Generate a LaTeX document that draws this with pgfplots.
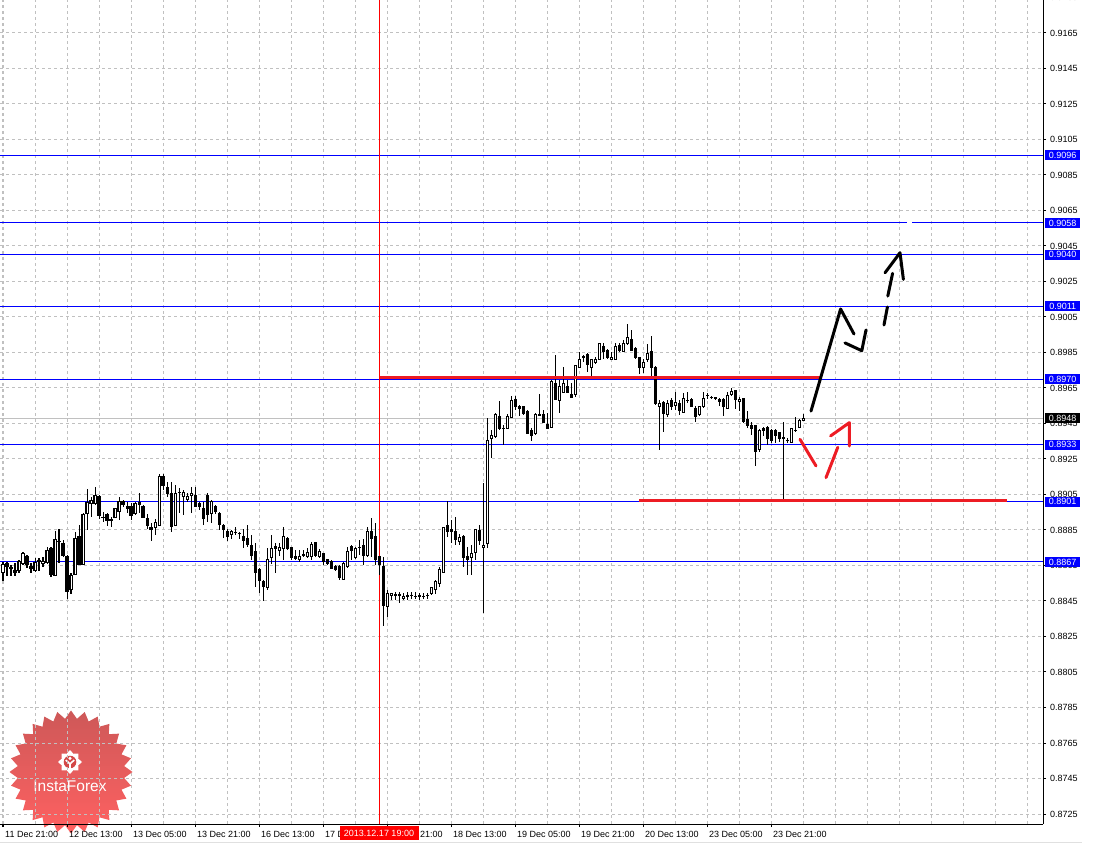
\documentclass[border=0pt]{standalone}
\usepackage{fontspec}
\setmainfont{Liberation Sans}
\usepackage{pgfplots}
\usepackage{pgfplotstable}
\pgfplotsset{compat=1.18}
\usetikzlibrary{shapes.geometric}

\definecolor{gridgray}{RGB}{192,192,192}
\definecolor{mtblue}{RGB}{0,0,255}
\definecolor{annred}{RGB}{237,28,36}
\definecolor{vred}{RGB}{255,0,0}
\definecolor{logotop}{RGB}{200,70,70}
\definecolor{logobot}{RGB}{255,80,80}
\newcommand\lbl{\fontsize{9}{10.5}\selectfont}

\pgfplotstableread{
i o h l c
0 0.88609 0.88671 0.88564 0.88653
1 0.88662 0.88671 0.88592 0.88643
2 0.88634 0.88653 0.88592 0.88636
3 0.88624 0.88662 0.88591 0.88611
4 0.88621 0.88681 0.88609 0.88671
5 0.88662 0.88728 0.88653 0.88715
6 0.88703 0.88709 0.88639 0.88653
7 0.88647 0.88662 0.88606 0.88632
8 0.88621 0.88690 0.88615 0.88666
9 0.88675 0.88690 0.88621 0.88677
10 0.88662 0.88700 0.88643 0.88675
11 0.88666 0.88756 0.88662 0.88737
12 0.88747 0.88756 0.88587 0.88602
13 0.88592 0.88846 0.88590 0.88794
14 0.88786 0.88856 0.88662 0.88788
15 0.88775 0.88794 0.88700 0.88709
16 0.88703 0.88709 0.88465 0.88502
17 0.88512 0.88606 0.88489 0.88596
18 0.88602 0.88841 0.88596 0.88803
19 0.88816 0.88878 0.88658 0.88658
20 0.88658 0.88944 0.88656 0.88935
21 0.88944 0.89085 0.88850 0.89006
22 0.89000 0.89034 0.88925 0.89014
23 0.89000 0.89091 0.88991 0.89047
24 0.89038 0.89047 0.88916 0.88929
25 0.88920 0.88953 0.88897 0.88922
26 0.88935 0.88944 0.88873 0.88903
27 0.88906 0.88925 0.88869 0.88908
28 0.88921 0.88972 0.88916 0.88972
29 0.88953 0.89038 0.88906 0.89010
30 0.89010 0.89019 0.88981 0.88995
31 0.88985 0.89010 0.88944 0.88972
32 0.88981 0.89000 0.88906 0.88931
33 0.88944 0.89010 0.88935 0.88997
34 0.89004 0.89057 0.88944 0.88995
35 0.88985 0.88991 0.88916 0.88921
36 0.88916 0.88944 0.88859 0.88874
37 0.88865 0.88888 0.88790 0.88850
38 0.88865 0.88912 0.88822 0.88893
39 0.88878 0.89166 0.88873 0.89149
40 0.89154 0.89166 0.89075 0.89098
41 0.89087 0.89120 0.89036 0.89053
42 0.89058 0.89120 0.88839 0.88867
43 0.88878 0.89104 0.88873 0.89058
44 0.89062 0.89087 0.88946 0.89064
45 0.89038 0.89076 0.88935 0.89061
46 0.89023 0.89061 0.89010 0.89038
47 0.89042 0.89094 0.88944 0.89057
48 0.89047 0.89094 0.88981 0.88985
49 0.88997 0.89010 0.88963 0.88981
50 0.88972 0.89010 0.88878 0.88916
51 0.89047 0.89057 0.88897 0.88935
52 0.88944 0.89019 0.88891 0.89010
53 0.88985 0.88991 0.88944 0.88953
54 0.88944 0.88953 0.88850 0.88882
55 0.88878 0.88888 0.88809 0.88854
56 0.88844 0.88854 0.88790 0.88812
57 0.88827 0.88850 0.88797 0.88844
58 0.88835 0.88869 0.88822 0.88837
59 0.88831 0.88841 0.88803 0.88833
60 0.88816 0.88854 0.88747 0.88790
61 0.88803 0.88878 0.88756 0.88771
62 0.88765 0.88822 0.88681 0.88709
63 0.88728 0.88775 0.88531 0.88609
64 0.88625 0.88634 0.88493 0.88568
65 0.88559 0.88568 0.88452 0.88531
66 0.88527 0.88747 0.88512 0.88685
67 0.88696 0.88822 0.88658 0.88747
68 0.88756 0.88775 0.88606 0.88747
69 0.88734 0.88775 0.88703 0.88752
70 0.88747 0.88865 0.88681 0.88816
71 0.88803 0.88812 0.88737 0.88747
72 0.88752 0.88756 0.88681 0.88696
73 0.88703 0.88737 0.88681 0.88690
74 0.88681 0.88737 0.88671 0.88703
75 0.88708 0.88737 0.88696 0.88710
76 0.88703 0.88747 0.88690 0.88722
77 0.88700 0.88784 0.88681 0.88771
78 0.88779 0.88784 0.88700 0.88709
79 0.88703 0.88747 0.88696 0.88728
80 0.88715 0.88718 0.88653 0.88671
81 0.88685 0.88690 0.88653 0.88662
82 0.88671 0.88681 0.88628 0.88634
83 0.88647 0.88653 0.88621 0.88628
84 0.88647 0.88653 0.88568 0.88584
85 0.88572 0.88671 0.88568 0.88662
86 0.88647 0.88756 0.88634 0.88728
87 0.88756 0.88765 0.88681 0.88737
88 0.88696 0.88756 0.88690 0.88747
89 0.88749 0.88794 0.88709 0.88751
90 0.88765 0.88803 0.88653 0.88709
91 0.88709 0.88869 0.88700 0.88841
92 0.88844 0.88916 0.88700 0.88803
93 0.88816 0.88888 0.88653 0.88681
94 0.88700 0.88700 0.88596 0.88653
95 0.88647 0.88700 0.88309 0.88422
96 0.88418 0.88512 0.88362 0.88493
97 0.88482 0.88497 0.88456 0.88493
98 0.88483 0.88502 0.88456 0.88485
99 0.88485 0.88502 0.88437 0.88483
100 0.88465 0.88493 0.88456 0.88478
101 0.88483 0.88502 0.88456 0.88474
102 0.88479 0.88502 0.88460 0.88481
103 0.88478 0.88502 0.88460 0.88476
104 0.88480 0.88497 0.88456 0.88478
105 0.88476 0.88497 0.88465 0.88478
106 0.88481 0.88497 0.88460 0.88483
107 0.88493 0.88531 0.88484 0.88527
108 0.88516 0.88572 0.88493 0.88559
109 0.88546 0.88640 0.88531 0.88625
110 0.88610 0.88869 0.88606 0.88865
111 0.88878 0.89015 0.88812 0.88841
112 0.88854 0.88906 0.88779 0.88841
113 0.88841 0.88925 0.88765 0.88794
114 0.88788 0.88831 0.88765 0.88807
115 0.88816 0.88822 0.88643 0.88694
116 0.88703 0.88756 0.88596 0.88685
117 0.88696 0.88765 0.88596 0.88715
118 0.88722 0.88854 0.88681 0.88854
119 0.88846 0.88878 0.88765 0.88790
120 0.88749 0.89115 0.88382 0.88765
121 0.88776 0.89481 0.88749 0.89357
122 0.89368 0.89413 0.89256 0.89385
123 0.89374 0.89509 0.89368 0.89503
124 0.89492 0.89577 0.89413 0.89419
125 0.89419 0.89441 0.89329 0.89422
126 0.89424 0.89503 0.89419 0.89492
127 0.89486 0.89605 0.89481 0.89577
128 0.89588 0.89605 0.89526 0.89548
129 0.89548 0.89554 0.89492 0.89537
130 0.89543 0.89548 0.89498 0.89509
131 0.89520 0.89526 0.89391 0.89396
132 0.89408 0.89424 0.89351 0.89385
133 0.89396 0.89509 0.89385 0.89503
134 0.89497 0.89616 0.89492 0.89499
135 0.89503 0.89526 0.89453 0.89453
136 0.89447 0.89509 0.89419 0.89424
137 0.89430 0.89695 0.89430 0.89684
138 0.89678 0.89836 0.89582 0.89588
139 0.89582 0.89695 0.89509 0.89656
140 0.89627 0.89768 0.89622 0.89673
141 0.89656 0.89695 0.89622 0.89622
142 0.89616 0.89678 0.89599 0.89599
143 0.89616 0.89780 0.89599 0.89774
144 0.89768 0.89853 0.89763 0.89813
145 0.89824 0.89836 0.89796 0.89826
146 0.89836 0.89847 0.89740 0.89780
147 0.89768 0.89813 0.89718 0.89808
148 0.89791 0.89824 0.89785 0.89808
149 0.89813 0.89903 0.89808 0.89898
150 0.89886 0.89903 0.89813 0.89853
151 0.89864 0.89870 0.89813 0.89824
152 0.89813 0.89853 0.89808 0.89824
153 0.89813 0.89903 0.89808 0.89886
154 0.89892 0.89903 0.89853 0.89864
155 0.89858 0.89920 0.89853 0.89903
156 0.89898 0.90013 0.89892 0.89937
157 0.89926 0.89977 0.89858 0.89864
158 0.89875 0.89881 0.89813 0.89819
159 0.89819 0.89824 0.89729 0.89768
160 0.89768 0.89813 0.89735 0.89796
161 0.89808 0.89898 0.89796 0.89847
162 0.89853 0.89943 0.89718 0.89768
163 0.89768 0.89774 0.89554 0.89565
164 0.89548 0.89582 0.89301 0.89565
165 0.89571 0.89577 0.89402 0.89509
166 0.89498 0.89582 0.89486 0.89565
167 0.89577 0.89593 0.89526 0.89548
168 0.89554 0.89627 0.89526 0.89571
169 0.89565 0.89582 0.89498 0.89522
170 0.89511 0.89622 0.89509 0.89593
171 0.89578 0.89627 0.89565 0.89580
172 0.89588 0.89593 0.89543 0.89548
173 0.89537 0.89548 0.89460 0.89492
174 0.89498 0.89548 0.89492 0.89543
175 0.89546 0.89627 0.89537 0.89593
176 0.89606 0.89622 0.89588 0.89608
177 0.89595 0.89605 0.89586 0.89597
178 0.89594 0.89601 0.89582 0.89592
179 0.89588 0.89593 0.89548 0.89573
180 0.89588 0.89593 0.89492 0.89545
181 0.89537 0.89627 0.89531 0.89605
182 0.89616 0.89650 0.89605 0.89629
183 0.89634 0.89639 0.89531 0.89588
184 0.89573 0.89601 0.89520 0.89588
185 0.89593 0.89593 0.89455 0.89460
186 0.89475 0.89522 0.89428 0.89441
187 0.89441 0.89460 0.89385 0.89419
188 0.89436 0.89436 0.89211 0.89290
189 0.89306 0.89422 0.89290 0.89413
190 0.89424 0.89432 0.89379 0.89409
191 0.89430 0.89436 0.89329 0.89368
192 0.89410 0.89422 0.89342 0.89357
193 0.89410 0.89422 0.89342 0.89380
194 0.89398 0.89404 0.89347 0.89366
195 0.89368 0.89460 0.89019 0.89370
196 0.89353 0.89366 0.89342 0.89355
197 0.89342 0.89424 0.89342 0.89424
198 0.89408 0.89489 0.89404 0.89410
199 0.89430 0.89475 0.89425 0.89468
200 0.89467 0.89504 0.89463 0.89480
}\candles

\pgfplotsset{
  chartgeom/.style={at={(0pt,19pt)}, anchor=south west, scale only axis,
    width=1043pt, height=824pt, xmin=-0.75, xmax=260},
}
\tikzset{
  pricebox/.style={anchor=west, xshift=2pt, inner sep=0pt, minimum width=35pt,
    minimum height=10pt, text=white, font=\lbl},
}

\begin{document}
\begin{tikzpicture}[x=1pt,y=1pt]
\useasboundingbox (0,0) rectangle (1094,843);
\fill[black!12] (0,0) rectangle (1082,1.3);
% logo
\node[star, star points=28, star point ratio=1.15, minimum size=123pt, inner sep=0pt,
  top color=logotop, bottom color=logobot, draw=none, opacity=0.9] at (71,71) {};
\node[star, star points=8, star point ratio=1.35, minimum size=24pt, inner sep=0pt, fill=white] at (70,81) {};
\fill[logotop!80!logobot] (70,81) circle (6.3);
\fill[white] (70,84.6) circle (1.7);
\draw[white, line width=1.6pt] (65.8,83) -- (70,79) -- (74.2,83);
\draw[white, line width=1.9pt] (70,79) -- (70,71);
\node[text=white, font=\fontsize{15.5}{18}\selectfont, inner sep=0pt] at (70,57) {InstaForex};

% axis A: grid, ticks, lines, wicks
\begin{axis}[chartgeom, ymin=0.8719366, ymax=0.9183592,
  axis x line*=bottom, axis y line*=right,
  axis line style={black, line width=1pt},
  xtick={0,16,...,192},
  xticklabels={11 Dec 21:00,12 Dec 13:00,13 Dec 05:00,13 Dec 21:00,16 Dec 13:00,17 Dec 05:00,17 Dec 21:00,18 Dec 13:00,19 Dec 05:00,19 Dec 21:00,20 Dec 13:00,23 Dec 05:00,23 Dec 21:00},
  minor xtick={0,8,...,256},
  xminorgrids=true, xmajorgrids=false, ymajorgrids=true,
  ytick={0.8725,0.8745,0.8765,0.8785,0.8805,0.8825,0.8845,0.8865,0.8885,0.8905,0.8925,0.8945,0.8965,0.8985,0.9005,0.9025,0.9045,0.9065,0.9085,0.9105,0.9125,0.9145,0.9165},
  yticklabels={0.8725,0.8745,0.8765,0.8785,0.8805,0.8825,0.8845,0.8865,0.8885,0.8905,0.8925,0.8945,0.8965,0.8985,0.9005,0.9025,0.9045,0.9065,0.9085,0.9105,0.9125,0.9145,0.9165},
  grid style={gridgray, line width=1pt, dash pattern=on 3pt off 3pt},
  minor grid style={gridgray, line width=1pt, dash pattern=on 3pt off 3pt},
  major grid style={gridgray, line width=1pt, dash pattern=on 3pt off 3pt},
  tick align=outside, major tick length=3pt, minor tick length=0pt,
  major tick style={black, line width=1pt},
  xticklabel style={anchor=west, inner sep=0pt, font=\lbl, xshift=2pt, yshift=-7pt},
  yticklabel style={anchor=west, inner sep=0pt, font=\lbl, xshift=4pt},
  clip=false,
]
\addplot[mtblue, line width=1pt, forget plot] coordinates {(-0.75,0.9096) (260,0.9096)};
\addplot[mtblue, line width=1pt, forget plot] coordinates {(-0.75,0.9058) (226,0.9058)};
\addplot[mtblue, line width=1pt, forget plot] coordinates {(227.25,0.9058) (260,0.9058)};
\addplot[mtblue, line width=1pt, forget plot] coordinates {(-0.75,0.9040) (260,0.9040)};
\addplot[mtblue, line width=1pt, forget plot] coordinates {(-0.75,0.9011) (260,0.9011)};
\addplot[mtblue, line width=1pt, forget plot] coordinates {(-0.75,0.8970) (260,0.8970)};
\addplot[gridgray, line width=1pt, forget plot] coordinates {(-0.75,0.8948) (260,0.8948)};
\addplot[mtblue, line width=1pt, forget plot] coordinates {(-0.75,0.8933) (260,0.8933)};
\addplot[mtblue, line width=1pt, forget plot] coordinates {(-0.75,0.8901) (260,0.8901)};
\addplot[mtblue, line width=1pt, forget plot] coordinates {(-0.75,0.8867) (260,0.8867)};
\addplot[vred, line width=1pt, forget plot] coordinates {(94,0.8719366) (94,0.9183592)};
\addplot[draw=none, mark=none, forget plot,
  error bars/.cd, y dir=both, y explicit, error mark=none,
  error bar style={draw=black, line width=1pt, solid}]
  table[x=i, y expr={(\thisrow{h}+\thisrow{l})/2}, y error expr={(\thisrow{h}-\thisrow{l})/2}]{\candles};
\end{axis}

% axis B: candle bodies (prices offset by 0.87)
\begin{axis}[chartgeom, ymin=0.0019366, ymax=0.0483592, hide axis,
  ybar stacked, bar width=2pt]
\addplot[draw=none, fill=none, forget plot] table[x=i, y expr={min(\thisrow{o},\thisrow{c})-0.87}]{\candles};
\addplot[draw=black, fill=white, line width=1pt, forget plot] table[x=i, y expr={max(\thisrow{c}-\thisrow{o},0)}]{\candles};
\addplot[draw=black, fill=black, line width=1pt, forget plot] table[x=i, y expr={max(\thisrow{o}-\thisrow{c},0)}]{\candles};
\end{axis}

% axis C: annotations and price boxes
\begin{axis}[chartgeom, ymin=0.8719366, ymax=0.9183592, hide axis, clip=false]
\addplot[annred, line width=3pt, forget plot] coordinates {(94.25,0.89709) (204.25,0.89709)};
\addplot[annred, line width=3pt, forget plot] coordinates {(159,0.89017) (251,0.89017)};
\addplot[black, line width=3pt, line cap=round, line join=round, forget plot] coordinates {(202,0.89520) (209.4,0.90095) (212.75,0.89954)};
\addplot[black, line width=3pt, line cap=round, line join=round, forget plot] coordinates {(210.5,0.89904) (214.7,0.89860) (215.75,0.89977)};
\addplot[black, line width=3pt, line cap=round, forget plot] coordinates {(220.25,0.90005) (221.1,0.90106)};
\addplot[black, line width=3pt, line cap=round, forget plot] coordinates {(221.2,0.90168) (222.4,0.90296)};
\addplot[black, line width=3pt, line cap=round, line join=round, forget plot] coordinates {(220.5,0.90299) (224.25,0.90412) (225.1,0.90262)};
\addplot[annred, line width=3pt, line cap=round, forget plot] coordinates {(199.25,0.89361) (203.25,0.89211)};
\addplot[annred, line width=3pt, line cap=round, forget plot] coordinates {(205.75,0.89145) (208.7,0.89316)};
\addplot[annred, line width=3pt, line cap=round, line join=round, forget plot] coordinates {(206.9,0.89380) (211.6,0.89455) (211.6,0.89323)};
% price boxes
\node[pricebox, fill=mtblue] at (axis cs:260,0.9096) {0.9096};
\node[pricebox, fill=mtblue] at (axis cs:260,0.9058) {0.9058};
\node[pricebox, fill=mtblue] at (axis cs:260,0.9040) {0.9040};
\node[pricebox, fill=mtblue] at (axis cs:260,0.9011) {0.9011};
\node[pricebox, fill=mtblue] at (axis cs:260,0.8970) {0.8970};
\node[pricebox, fill=black] at (axis cs:260,0.8948) {0.8948};
\node[pricebox, fill=mtblue] at (axis cs:260,0.8933) {0.8933};
\node[pricebox, fill=mtblue] at (axis cs:260,0.8901) {0.8901};
\node[pricebox, fill=mtblue] at (axis cs:260,0.8867) {0.8867};
\node[anchor=west, inner sep=0pt, font=\lbl, xshift=7pt] at (axis cs:260,0.9185) {0.9185};
\node[fill=vred, text=white, font=\lbl, inner sep=0pt, minimum width=79pt, minimum height=14pt, yshift=-9pt] at (axis cs:94,0.8719366) {2013.12.17 19:00};
\end{axis}
\end{tikzpicture}
\end{document}
